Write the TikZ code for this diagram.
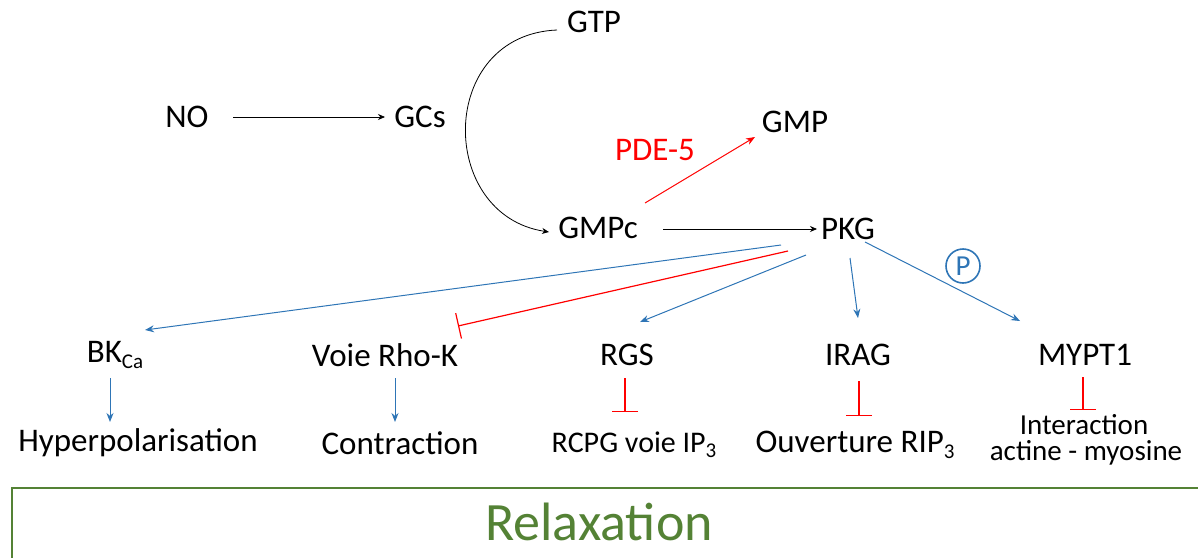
\documentclass[tikz,border=0pt]{standalone}
\usepackage{fontspec}
\setmainfont{Carlito}
\usetikzlibrary{arrows.meta}
\definecolor{bl}{RGB}{46,117,182}
\definecolor{gr}{RGB}{84,130,53}
\tikzset{
  lbl/.style={inner sep=0pt, font=\fontsize{33}{35}\selectfont},
  sml/.style={inner sep=0pt, font=\fontsize{29}{30}\selectfont},
  blk/.style={color=black, line width=0.8pt, -{Stealth[length=7pt,width=6pt]}},
  blu/.style={color=bl, line width=1pt, -{Stealth[length=9pt,width=7pt]}},
  inh/.style={color=red, line width=1.2pt, -{Bar[width=26pt,line width=1.2pt,color=red]}},
  red arrow/.style={color=red, line width=1pt, -{Stealth[length=9pt,width=7pt]}}
}
\newcommand{\sbs}[1]{\raisebox{-0.35ex}{\fontsize{21}{21}\selectfont #1}}
\begin{document}
\begin{tikzpicture}[x=1pt,y=-1pt]
\useasboundingbox (0,0) rectangle (1198,557);
% nodes
\node[lbl] (NO) at (187,117) {NO};
\node[lbl] (GCs) at (420,117) {GCs};
\node[lbl] (GTP) at (594,22) {GTP};
\node[lbl] (GMPc) at (598,228) {GMPc};
\node[lbl] (GMP) at (795,122) {GMP};
\node[lbl, text=red] (PDE) at (655,150) {PDE-5};
\node[lbl] (PKG) at (848,229) {PKG};
\node[circle, draw=bl, line width=1.6pt, text=bl, minimum size=34pt, inner sep=0pt, font=\fontsize{29}{29}\selectfont] (P) at (963,266) {P};
\node[lbl] (BK) at (115,355) {BK\sbs{Ca}};
\node[lbl] (Rho) at (385,355) {Voie Rho-K};
\node[lbl] (RGS) at (627,355) {RGS};
\node[lbl] (IRAG) at (858,355) {IRAG};
\node[lbl] (MYPT) at (1085,355) {MYPT1};
\node[lbl] (Hyp) at (138,443) {Hyperpolarisation};
\node[lbl] (Con) at (400,443) {Contraction};
\node[sml, font=\fontsize{30}{30}\selectfont] (RCPG) at (634,445) {RCPG voie IP\sbs{3}};
\node[lbl] (Ouv) at (855,445) {Ouverture RIP\sbs{3}};
\node[sml, anchor=base, text depth=0pt] (Int1) at (1084,434) {Interaction};
\node[sml, anchor=base, text height=16pt] (Int2) at (1086,460) {actine - myosine};
\node[inner sep=0pt, text=gr, font=\fontsize{54}{56}\selectfont] (Rel) at (599,522) {Relaxation};
% coordinates
\coordinate (noE) at (233,117);
\coordinate (gcW) at (385,117);
\coordinate (gtpW) at (557,30);
\coordinate (gmpcW) at (549,232);
\coordinate (gmpcE) at (663,229);
\coordinate (pkgW) at (817,229);
\coordinate (pdeS) at (645,203);
\coordinate (gmpS) at (755,137);
\coordinate (pk1) at (781,245);
\coordinate (bkN) at (145,330);
\coordinate (pk2) at (788,251);
\coordinate (rhoN) at (458,326);
\coordinate (pk3) at (806,255);
\coordinate (rgsN) at (640,322);
\coordinate (pk4) at (850,258);
\coordinate (iragN) at (858,318);
\coordinate (pk5) at (865,242);
\coordinate (myN) at (1020,321);
\coordinate (bkS) at (110,378);
\coordinate (hypN) at (110,422);
\coordinate (rhoS) at (395,378);
\coordinate (conN) at (395,422);
\coordinate (rgsS) at (625,378);
\coordinate (rcpgN) at (625,412);
\coordinate (iragS) at (859,381);
\coordinate (ouvN) at (859,416);
\coordinate (myS) at (1083,377);
\coordinate (intN) at (1083,410);
% connectors
\draw[blk] (noE) -- (gcW);
\draw[blk] (gtpW) .. controls (437,35) and (437,215) .. (gmpcW);
\draw[blk] (gmpcE) -- (pkgW);
\draw[red arrow] (pdeS) -- (gmpS);
\draw[blu] (pk1) -- (bkN);
\draw[inh] (pk2) -- (rhoN);
\draw[blu] (pk3) -- (rgsN);
\draw[blu] (pk4) -- (iragN);
\draw[blu] (pk5) -- (myN);
\draw[blu] (bkS) -- (hypN);
\draw[blu] (rhoS) -- (conN);
\draw[inh] (rgsS) -- (rcpgN);
\draw[inh] (iragS) -- (ouvN);
\draw[inh] (myS) -- (intN);
% bottom box
\draw[gr, line width=1.5pt] (12,560) -- (12,488) -- (1200,488);
\end{tikzpicture}
\end{document}
